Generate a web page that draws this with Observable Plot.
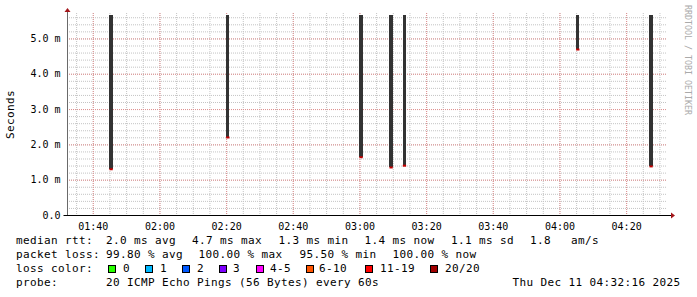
<!DOCTYPE html>
<html>
<head>
<meta charset="utf-8">
<script src="https://cdn.jsdelivr.net/npm/d3@7"></script>
<script src="https://cdn.jsdelivr.net/npm/@observablehq/plot@0.6"></script>
<style>
  html, body { margin: 0; padding: 0; background: #fff; }
  #wrap { position: relative; width: 697px; height: 297px; overflow: hidden; background: #fff; }
  #chart svg { display: block; }
  .t { position: absolute; font-family: "DejaVu Sans Mono", monospace; font-size: 11px; letter-spacing: 0.38px; line-height: 13px; white-space: pre; color: #000; }
  .sw { position: absolute; width: 8px; height: 8px; box-sizing: border-box; border: 1px solid #000; }
  #ylab { position: absolute; left: 4px; top: 90px; font-family: "DejaVu Sans Mono", monospace; font-size: 11px; letter-spacing: 0.38px; writing-mode: vertical-rl; transform: rotate(180deg); color: #000; line-height: 13px; }
  #wm { position: absolute; left: 683px; top: 5px; font-family: "DejaVu Sans Mono", monospace; font-size: 8.3px; writing-mode: vertical-rl; color: #aaaaaa; line-height: 10px; }
</style>
</head>
<body>
<div id="wrap">
  <div id="chart"></div>
</div>
<script>
// ---- data ----
const day = "2025-12-11T";
const startTime = "01:32:16";
const endTime = "04:32:16";
const sampleTimes = ["01:45", "02:20", "03:00", "03:09", "03:13", "04:05", "04:27"];
const medianRtt   = [1.31, 2.21, 1.65, 1.36, 1.41, 4.70, 1.39];   // ms
const maxRtt      = [5.66, 5.66, 5.66, 5.66, 5.66, 5.66, 5.66];   // ms (smoke runs off the top)
const xTickLabels = ["01:40", "02:00", "02:20", "02:40", "03:00", "03:20", "03:40", "04:00", "04:20"];
const yTicks      = [0, 1, 2, 3, 4, 5];
const yTickLabels = ["0.0", "1.0 m", "2.0 m", "3.0 m", "4.0 m", "5.0 m"];
const lossLabels  = ["0", "1", "2", "3", "4-5", "6-10", "11-19", "20/20"];
const lossColors  = ["#26ff00", "#00b8ff", "#0059ff", "#7e00ff", "#ff00ff", "#ff5500", "#ff0000", "#a10000"];
const legendLines = [
  ["median rtt:", "2.0 ms avg", "4.7 ms max", "1.3 ms min", "1.4 ms now", "1.1 ms sd", "1.8", "am/s"],
  ["packet loss:", "99.80 % avg", "100.00 % max", "95.50 % min", "100.00 % now"],
  ["probe:", "20 ICMP Echo Pings (56 Bytes) every 60s", "Thu Dec 11 04:32:16 2025"]
];

// ---- derived ----
const T = s => new Date(day + (s.length === 5 ? s + ":00" : s) + "Z");
const t0 = T(startTime), t1 = T(endTime);
const samples = sampleTimes.map((s, i) => ({
  t: T(s), t2: new Date(+T(s) + 60000), median: medianRtt[i], max: maxRtt[i]
}));
const majorX = xTickLabels.map(T);
const minorX = d3.utcMinute.every(5).range(t0, t1);
const minorY = d3.range(1, 29).map(i => i * 0.2);
const fmtX = d3.utcFormat("%H:%M");

const plot = Plot.plot({
  width: 697, height: 232,
  marginLeft: 67, marginRight: 30, marginTop: 13, marginBottom: 17,
  x: { type: "utc", domain: [t0, t1] },
  y: { domain: [0, 5.72] },
  style: { fontFamily: "DejaVu Sans Mono", fontSize: "10px", background: "#fff", color: "#000", overflow: "visible" },
  marks: [
    Plot.ruleX(minorX, { stroke: "#c4c4c4", strokeDasharray: "1,1" }),
    Plot.ruleY(minorY, { stroke: "#c4c4c4", strokeDasharray: "1,1", x1: t0, x2: t1 }),
    Plot.ruleX(majorX, { stroke: "#e08f8f", strokeDasharray: "1,1" }),
    Plot.ruleY(yTicks.filter(d => d > 0), { stroke: "#e08f8f", strokeDasharray: "1,1" }),
    Plot.rect(samples, { x1: "t", x2: "t2", y1: "median", y2: "max", fill: "#333333", shapeRendering: "crispEdges" }),
    Plot.ruleY(samples, { y: "median", x1: "t", x2: "t2", stroke: "#c40000", strokeWidth: 2 }),
    Plot.axisX({ ticks: majorX, tickFormat: d => xTickLabels[majorX.findIndex(m => +m === +d)] ?? fmtX(d), tickSize: 0, tickPadding: 7, label: null }),
    Plot.axisY({ ticks: yTicks, tickFormat: d => yTickLabels[yTicks.indexOf(d)], tickSize: 0, tickPadding: 7, label: null }),
    Plot.ruleX([t0], { stroke: "#6a6a6a", y1: 0, y2: 5.72 })
  ]
});
document.getElementById("chart").appendChild(plot);

// axis line and arrows
const xs = plot.scale("x"), ys = plot.scale("y");
const svg = d3.select(plot);
const yb = Math.round(ys.apply(0)) + 0.5;
const xl = Math.round(xs.apply(t0)) + 0.5;
svg.append("line").attr("x1", xl - 4).attr("x2", 671).attr("y1", yb).attr("y2", yb).attr("stroke", "#000");
svg.append("path").attr("d", `M${671},${yb - 3}L${675},${yb}L${671},${yb + 3}Z`).attr("fill", "#a3161a");
svg.append("line").attr("x1", xl).attr("x2", xl).attr("y1", 13).attr("y2", 11).attr("stroke", "#6a6a6a");
svg.append("path").attr("d", `M${xl - 3},${12}L${xl},${8}L${xl + 3},${12}Z`).attr("fill", "#a3161a");

// legend (HTML)
const wrap = document.getElementById("wrap");
function addText(txt, x, y) {
  const s = document.createElement("span");
  s.className = "t"; s.textContent = txt;
  s.style.left = x + "px"; s.style.top = y + "px";
  wrap.appendChild(s);
}
const line1X = [16, 106, 192, 278.5, 364.5, 451, 530, 571];
const line2X = [16, 106, 198.5, 299.5, 392.5];
const line4X = [16, 106, 512.5];
legendLines[0].forEach((t, i) => addText(t, line1X[i], 234));
legendLines[1].forEach((t, i) => addText(t, line2X[i], 248));
addText("loss color:", 16, 262);
const swX = [108, 145, 182, 219, 256, 306, 365, 430];
const lbX = [123, 160, 197, 233, 270, 319, 380, 445];
lossLabels.forEach((l, i) => {
  const b = document.createElement("div");
  b.className = "sw"; b.style.left = swX[i] + "px"; b.style.top = "265px"; b.style.background = lossColors[i];
  wrap.appendChild(b);
  addText(l, lbX[i], 262);
});
legendLines[2].forEach((t, i) => addText(t, line4X[i], 276));

const yl = document.createElement("div"); yl.id = "ylab"; yl.textContent = "Seconds"; wrap.appendChild(yl);
const wm = document.createElement("div"); wm.id = "wm"; wm.textContent = "RRDTOOL / TOBI OETIKER"; wrap.appendChild(wm);
</script>
</body>
</html>
